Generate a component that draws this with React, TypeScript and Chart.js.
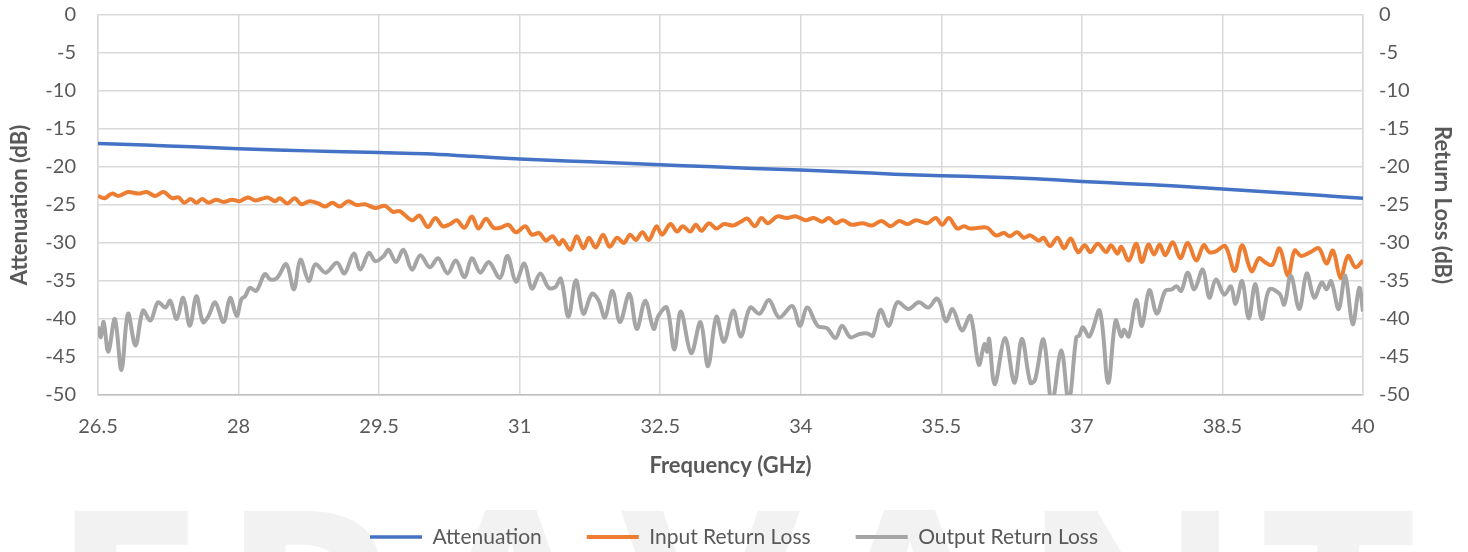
import React, { useEffect, useRef } from "react";
import { Chart, registerables } from "chart.js";

Chart.register(...registerables);

// ---------- data ----------
const X_TICKS = [26.5, 28, 29.5, 31, 32.5, 34, 35.5, 37, 38.5, 40];
const Y_MIN = -50;
const Y_MAX = 0;
const Y_STEP = 5;

const SERIES_NAMES = ["Attenuation", "Input Return Loss", "Output Return Loss"];
const SERIES_COLORS = ["#4472C4", "#ED7D31", "#A5A5A5"];

const ATT_FREQ = [26.5, 27, 27.5, 28, 28.5, 29, 29.5, 30, 30.5, 31, 31.5, 32, 32.5, 33, 33.5, 34, 34.5, 35, 35.5, 36, 36.5, 37, 37.5, 38, 38.5, 39, 39.5, 40];
const ATT_DB = [-16.9, -17.1, -17.35, -17.6, -17.8, -17.95, -18.1, -18.25, -18.6, -18.95, -19.2, -19.45, -19.7, -19.95, -20.2, -20.4, -20.65, -20.95, -21.15, -21.3, -21.55, -21.9, -22.2, -22.5, -22.9, -23.3, -23.7, -24.1];

const IN_FREQ = [
  26.5, 26.57, 26.65, 26.72, 26.82, 26.93, 27.02, 27.11, 27.2, 27.29, 27.36, 27.42, 27.49, 27.55, 27.61, 27.68, 27.76, 27.84, 27.93, 28.01,
  28.1, 28.18, 28.31, 28.39, 28.44, 28.52, 28.6, 28.67, 28.76, 28.85, 28.93, 29.0, 29.08, 29.17, 29.26, 29.35, 29.46, 29.56, 29.65, 29.72,
  29.85, 29.93, 30.02, 30.1, 30.18, 30.26, 30.33, 30.41, 30.49, 30.56, 30.64, 30.72, 30.79, 30.88, 30.96, 31.06, 31.13, 31.21, 31.28, 31.35,
  31.42, 31.46, 31.54, 31.61, 31.68, 31.74, 31.81, 31.89, 31.96, 32.04, 32.11, 32.18, 32.24, 32.31, 32.38, 32.46, 32.52, 32.61, 32.68, 32.74,
  32.82, 32.88, 32.94, 33.02, 33.1, 33.18, 33.28, 33.36, 33.43, 33.51, 33.58, 33.65, 33.75, 33.85, 33.95, 34.05, 34.14, 34.23, 34.3, 34.37,
  34.45, 34.54, 34.66, 34.76, 34.86, 34.96, 35.05, 35.14, 35.23, 35.35, 35.44, 35.51, 35.58, 35.67, 35.74, 35.81, 35.9, 35.99, 36.08, 36.17,
  36.23, 36.31, 36.38, 36.45, 36.54, 36.59, 36.66, 36.74, 36.81, 36.88, 36.96, 37.03, 37.09, 37.17, 37.26, 37.31, 37.38, 37.42, 37.5, 37.58,
  37.64, 37.71, 37.77, 37.83, 37.89, 37.97, 38.05, 38.13, 38.22, 38.3, 38.36, 38.43, 38.53, 38.63, 38.71, 38.81, 38.89, 38.95, 39.03, 39.11,
  39.2, 39.27, 39.34, 39.44, 39.53, 39.61, 39.68, 39.76, 39.84, 39.92, 40.0,
];
const IN_DB = [
  -23.8, -24.1, -23.5, -23.8, -23.3, -23.5, -23.3, -23.8, -23.3, -24.1, -24.0, -24.7, -24.2, -24.7, -24.2, -24.7, -24.3, -24.6, -24.3, -24.5,
  -24.0, -24.4, -24.0, -24.5, -24.1, -24.8, -24.1, -24.9, -24.5, -24.8, -25.2, -24.7, -25.2, -24.5, -25.0, -24.9, -25.4, -25.1, -25.9, -25.8,
  -27.0, -26.4, -27.9, -26.7, -27.8, -27.5, -27.0, -28.0, -26.5, -28.1, -26.8, -28.0, -28.0, -27.6, -28.6, -27.8, -28.9, -28.7, -29.7, -29.1,
  -30.2, -29.6, -30.9, -29.1, -30.7, -29.3, -30.6, -28.9, -30.5, -29.3, -30.0, -28.9, -29.6, -28.6, -29.6, -27.8, -28.9, -27.5, -28.5, -27.8,
  -28.5, -27.6, -28.4, -27.4, -28.1, -27.5, -27.7, -27.2, -26.8, -27.8, -26.7, -27.4, -26.5, -26.7, -26.5, -27.0, -26.7, -27.2, -26.7, -27.4,
  -27.0, -27.6, -27.4, -27.7, -27.1, -27.8, -27.1, -27.5, -27.0, -27.4, -26.7, -27.6, -26.7, -28.1, -27.8, -28.1, -28.0, -28.0, -29.0, -28.7,
  -29.1, -28.6, -29.3, -29.0, -29.7, -29.3, -30.4, -29.3, -30.7, -29.4, -31.2, -30.3, -31.2, -30.1, -31.2, -30.3, -31.4, -30.5, -32.3, -30.1,
  -32.5, -30.2, -31.5, -30.2, -31.6, -29.9, -32.0, -30.0, -32.3, -30.3, -31.2, -31.1, -30.4, -33.7, -30.3, -33.7, -32.0, -32.5, -32.9, -30.7,
  -34.3, -31.0, -31.7, -31.2, -30.7, -32.7, -31.0, -34.6, -31.7, -33.2, -32.3,
];

const OUT_FREQ = [
  26.5, 26.53, 26.56, 26.61, 26.68, 26.75, 26.82, 26.9, 26.98, 27.06, 27.14, 27.22, 27.27, 27.34, 27.41, 27.48, 27.55, 27.62, 27.68, 27.75,
  27.84, 27.91, 27.98, 28.03, 28.07, 28.12, 28.19, 28.28, 28.34, 28.41, 28.51, 28.59, 28.66, 28.75, 28.82, 28.93, 29.05, 29.13, 29.23, 29.3,
  29.39, 29.46, 29.55, 29.6, 29.68, 29.76, 29.85, 29.94, 30.04, 30.13, 30.23, 30.32, 30.41, 30.49, 30.58, 30.67, 30.79, 30.87, 30.96, 31.05,
  31.13, 31.22, 31.31, 31.38, 31.44, 31.52, 31.6, 31.68, 31.77, 31.84, 31.91, 31.99, 32.07, 32.17, 32.25, 32.34, 32.43, 32.48, 32.57, 32.65,
  32.72, 32.83, 32.93, 33.01, 33.1, 33.18, 33.28, 33.36, 33.46, 33.56, 33.66, 33.77, 33.91, 33.99, 34.07, 34.18, 34.28, 34.37, 34.44, 34.53,
  34.62, 34.71, 34.77, 34.85, 34.94, 35.03, 35.15, 35.26, 35.36, 35.45, 35.49, 35.55, 35.62, 35.72, 35.81, 35.9, 35.96, 35.99, 36.01, 36.07,
  36.18, 36.28, 36.36, 36.45, 36.5, 36.59, 36.68, 36.78, 36.86, 36.94, 36.97, 37.01, 37.08, 37.19, 37.28, 37.36, 37.42, 37.45, 37.5, 37.58,
  37.64, 37.72, 37.8, 37.89, 37.96, 38.01, 38.06, 38.13, 38.2, 38.29, 38.36, 38.43, 38.52, 38.59, 38.64, 38.71, 38.78, 38.85, 38.92, 39.0,
  39.11, 39.16, 39.23, 39.32, 39.4, 39.48, 39.56, 39.61, 39.66, 39.74, 39.81, 39.89, 39.96, 40.0,
];
const OUT_DB = [
  -41.0, -42.4, -40.4, -44.3, -40.0, -46.7, -39.3, -43.5, -38.9, -40.2, -37.8, -38.5, -37.6, -40.0, -37.2, -40.9, -37.0, -40.4, -39.6, -37.8,
  -40.4, -37.2, -39.6, -37.4, -37.0, -35.9, -36.3, -34.1, -34.8, -34.6, -32.8, -36.1, -32.2, -35.0, -32.8, -33.9, -32.6, -34.0, -31.4, -33.5,
  -31.3, -32.4, -31.7, -30.9, -32.5, -30.9, -33.5, -31.6, -33.2, -32.0, -34.0, -32.3, -34.5, -32.0, -33.9, -32.5, -34.6, -31.7, -35.1, -32.7,
  -36.0, -34.0, -35.9, -35.8, -34.7, -39.7, -34.9, -39.3, -36.7, -37.5, -39.8, -36.3, -40.4, -36.7, -41.3, -37.6, -41.3, -39.6, -38.5, -44.0,
  -39.0, -44.5, -40.4, -46.2, -39.7, -43.0, -38.9, -42.3, -38.5, -39.3, -37.5, -39.8, -38.3, -40.9, -38.5, -40.9, -41.2, -42.5, -40.9, -42.4,
  -42.0, -41.9, -42.2, -38.8, -40.9, -37.8, -38.7, -37.8, -38.5, -37.3, -38.0, -40.3, -38.7, -41.5, -39.6, -46.0, -43.3, -44.3, -42.6, -48.6,
  -42.5, -48.4, -42.6, -48.4, -48.0, -42.7, -51.0, -44.1, -51.0, -42.4, -42.2, -41.1, -42.3, -38.9, -48.4, -40.2, -42.3, -41.4, -42.3, -37.5,
  -40.9, -36.2, -39.3, -36.3, -36.1, -35.7, -36.3, -33.9, -36.1, -33.5, -37.2, -34.8, -36.8, -35.7, -38.0, -35.0, -39.9, -35.4, -40.0, -36.1,
  -36.7, -38.1, -34.3, -38.7, -34.0, -37.2, -35.2, -36.1, -35.0, -38.7, -34.3, -40.7, -35.9, -39.0,
];

const X_TITLE = "Frequency (GHz)";
const Y_LEFT_TITLE = "Attenuation (dB)";
const Y_RIGHT_TITLE = "Return Loss (dB)";
const WATERMARK = "ERAVANT";

// ---------- styling ----------
const FONT = "Lato, 'Noto Sans', sans-serif";
const TEXT = "#595959";
const GRID = "#d9d9d9";

const toPoints = (xs: number[], ys: number[]) => xs.map((x, i) => ({ x, y: ys[i] }));

const watermarkPlugin = {
  id: "watermark",
  beforeDraw(chart: any) {
    const ctx = chart.ctx as CanvasRenderingContext2D;
    ctx.save();
    ctx.font = "bold 275px 'Open Sans', sans-serif";
    ctx.fillStyle = "#f2f2f2";
    ctx.textBaseline = "alphabetic";
    ctx.textAlign = "left";
    const letters = WATERMARK.split("");
    const widths = letters.map((l) => ctx.measureText(l).width);
    const total = widths.reduce((a, b) => a + b, 0);
    const left = 50;
    const right = 1418;
    const gap = (right - left - total) / (letters.length - 1);
    let x = left;
    letters.forEach((l, i) => {
      ctx.fillText(l, x, 707);
      x += widths[i] + gap;
    });
    ctx.restore();
  },
};

export default function App() {
  const canvasRef = useRef<HTMLCanvasElement | null>(null);

  useEffect(() => {
    if (!canvasRef.current) return;
    const datasets = [
      { data: toPoints(ATT_FREQ, ATT_DB), width: 3.5, axis: "y", order: 2 },
      { data: toPoints(IN_FREQ, IN_DB), width: 4, axis: "y1", order: 1 },
      { data: toPoints(OUT_FREQ, OUT_DB), width: 4, axis: "y1", order: 0 },
    ].map((d, i) => ({
      label: SERIES_NAMES[i],
      data: d.data,
      borderColor: SERIES_COLORS[i],
      backgroundColor: SERIES_COLORS[i],
      borderWidth: d.width,
      pointRadius: 0,
      pointHoverRadius: 0,
      tension: 0.35,
      yAxisID: d.axis,
      order: d.order,
      fill: false,
    }));

    const LEGEND_PAD = 45;
    const LEGEND_H = LEGEND_PAD + 25.5;

    const chart = new Chart(canvasRef.current, {
      type: "line",
      data: { datasets },
      plugins: [watermarkPlugin],
      options: {
        responsive: false,
        animation: false,
        events: [],
        layout: { padding: { top: 15, left: 0, right: 0, bottom: 0 } },
        plugins: {
          tooltip: { enabled: false },
          legend: {
            position: "bottom",
            maxHeight: LEGEND_H,
            labels: {
              usePointStyle: true,
              pointStyle: "line",
              pointStyleWidth: 52,
              padding: LEGEND_PAD,
              color: TEXT,
              font: { family: FONT, size: 21 },
              sort: (a: any, b: any) => a.datasetIndex - b.datasetIndex,
            },
          },
        },
        scales: {
          x: {
            type: "linear",
            min: X_TICKS[0],
            max: X_TICKS[X_TICKS.length - 1],
            afterBuildTicks: (s: any) => {
              s.ticks = X_TICKS.map((v) => ({ value: v }));
            },
            afterFit: (s: any) => {
              s.height = 552 - LEGEND_H - 395;
            },
            ticks: {
              autoSkip: false,
              maxRotation: 0,
              padding: 20,
              color: TEXT,
              font: { family: FONT, size: 20 },
              callback: (v: any) => String(v),
            },
            grid: { color: GRID, lineWidth: 1.5, drawTicks: false },
            border: { color: "#bfbfbf", width: 1.5 },
            title: {
              display: true,
              text: X_TITLE,
              color: TEXT,
              font: { family: FONT, size: 22, weight: "bold" },
              padding: { top: 0, bottom: 2.3 },
            },
          },
          y: {
            position: "left",
            min: Y_MIN,
            max: Y_MAX,
            afterFit: (s: any) => {
              s.width = 98;
            },
            ticks: {
              stepSize: Y_STEP,
              padding: 0,
              color: TEXT,
              font: { family: FONT, size: 20 },
              callback: (v: any) => String(v),
            },
            grid: { color: GRID, lineWidth: 1.5, drawTicks: true, tickLength: 22, tickColor: "rgba(0,0,0,0)" },
            border: { color: GRID, width: 1.5 },
            title: {
              display: true,
              text: Y_LEFT_TITLE,
              color: TEXT,
              font: { family: FONT, size: 22, weight: "bold" },
              padding: { top: 6.8, bottom: 0 },
            },
          },
          y1: {
            position: "right",
            min: Y_MIN,
            max: Y_MAX,
            afterFit: (s: any) => {
              s.width = 1468 - 1363;
            },
            ticks: {
              stepSize: Y_STEP,
              padding: 0,
              color: TEXT,
              font: { family: FONT, size: 20 },
              callback: (v: any) => String(v),
            },
            grid: { drawOnChartArea: false, drawTicks: true, tickLength: 16, tickColor: "rgba(0,0,0,0)", color: GRID },
            border: { color: GRID, width: 1.5 },
            title: {
              display: true,
              text: Y_RIGHT_TITLE,
              color: TEXT,
              font: { family: FONT, size: 22, weight: "bold" },
              padding: { top: 12.8, bottom: 0 },
            },
          },
        },
      } as any,
    });
    return () => chart.destroy();
  }, []);

  return (
    <div style={{ position: "fixed", left: 0, top: 0, width: 1468, height: 552, background: "#fff" }}>
      <canvas ref={canvasRef} width={1468} height={552} style={{ width: 1468, height: 552, display: "block" }} />
    </div>
  );
}
